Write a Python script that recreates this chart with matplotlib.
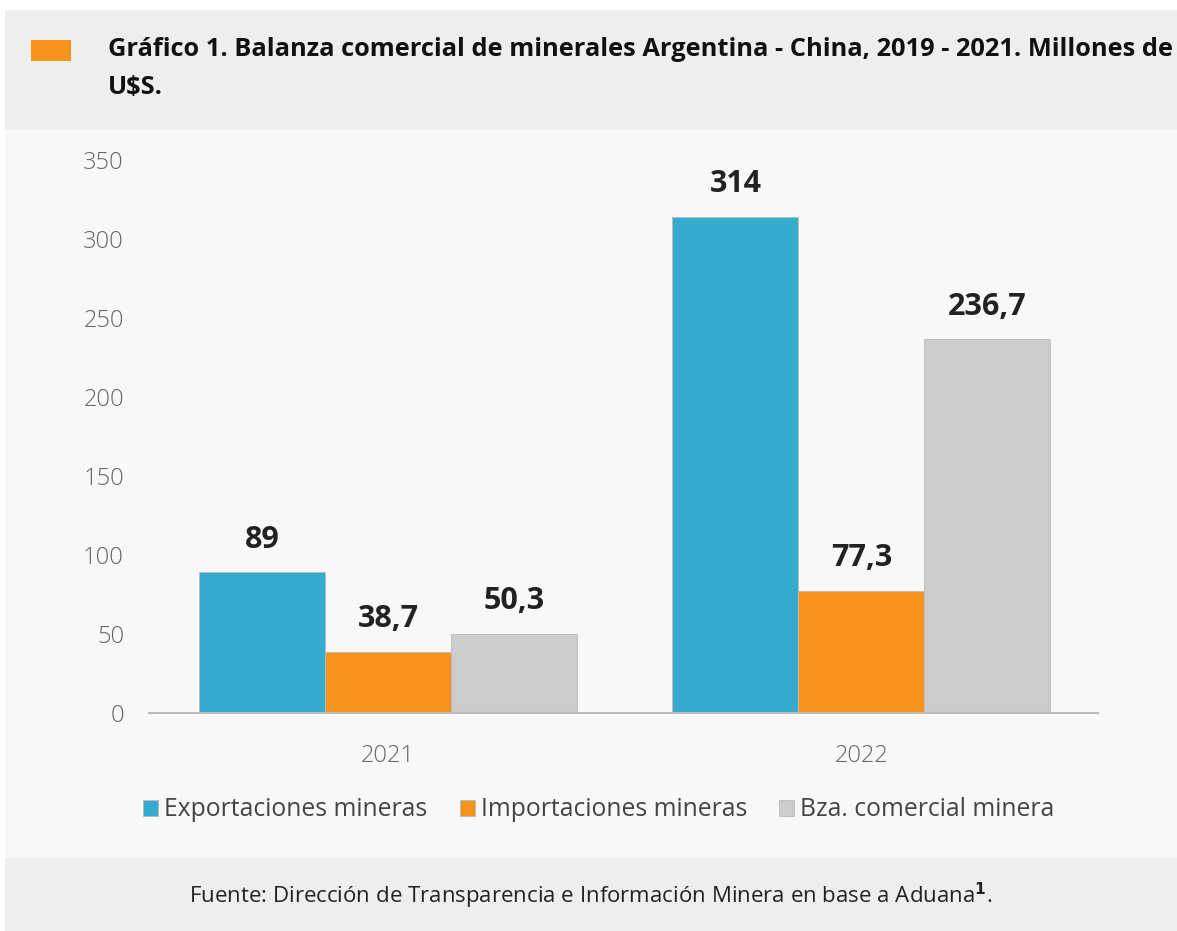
import matplotlib
matplotlib.use("Agg")
import matplotlib.pyplot as plt
from matplotlib.patches import Rectangle
import numpy as np

plt.rcParams['font.family'] = ['Open Sans', 'DejaVu Sans']

years = ["2021", "2022"]
series_names = ["Exportaciones mineras", "Importaciones mineras", "Bza. comercial minera"]
exportaciones = [89, 314]
importaciones = [38.7, 77.3]
balanza = [50.3, 236.7]
value_labels = [["89", "314"], ["38,7", "77,3"], ["50,3", "236,7"]]
colors = ["#35ABD0", "#F7941E", "#CCCCCC"]
yticks = [0, 50, 100, 150, 200, 250, 300, 350]

W, H = 1177, 931
fig = plt.figure(figsize=(W / 100, H / 100), dpi=100)
fig.patch.set_facecolor("#F8F8F8")

# header and footer bands
fig.add_artist(Rectangle((5 / W, 1 - 130 / H), 1, 120 / H, transform=fig.transFigure,
                         facecolor="#EEEEEE", edgecolor="none", zorder=0))
fig.add_artist(Rectangle((5 / W, 0), 1, (H - 858) / H, transform=fig.transFigure,
                         facecolor="#EEEEEE", edgecolor="none", zorder=0))
fig.add_artist(Rectangle((0, 1 - 10 / H), 1, 10 / H, transform=fig.transFigure,
                         facecolor="white", edgecolor="none", zorder=0))
fig.add_artist(Rectangle((0, 0), 5 / W, 1, transform=fig.transFigure,
                         facecolor="white", edgecolor="none", zorder=0))
fig.add_artist(Rectangle((31 / W, 1 - 61 / H), 40 / W, 21 / H, transform=fig.transFigure,
                         facecolor="#F7941E", edgecolor="none", zorder=1))

fig.text(108 / W, 1 - 49 / H,
         "Gráfico 1. Balanza comercial de minerales Argentina - China, 2019 - 2021. Millones de",
         ha="left", va="center", fontsize=18.3, fontweight="bold", color="#111111")
fig.text(108 / W, 1 - 87 / H, "U$S.",
         ha="left", va="center", fontsize=18.3, fontweight="bold", color="#111111")

fig.text(591 / W, 1 - 896 / H,
         "Fuente: Dirección de Transparencia e Información Minera en base a Aduana$^{\\mathbf{1}}$.",
         ha="center", va="center", fontsize=16, color="#222222")

ax = fig.add_axes([149 / W, 1 - 713 / H, (1098 - 149) / W, (713 - 160) / H])
ax.set_facecolor("#F8F8F8")

x = np.arange(len(years))
bw = 0.266
data = [exportaciones, importaciones, balanza]
for i, (vals, c, name) in enumerate(zip(data, colors, series_names)):
    pos = x + (i - 1) * bw
    ax.bar(pos, vals, width=bw, color=c, edgecolor="#BBBBBB", linewidth=0.6,
           label=name, zorder=2)
    for xi, v, lab in zip(pos, vals, value_labels[i]):
        ax.text(xi, v + 11, lab, ha="center", va="bottom", fontsize=22,
                fontweight="bold", color="#222222")

ax.set_xlim(-0.505, 1.5)
ax.set_ylim(0, 350)
ax.set_yticks(yticks)
ax.set_yticklabels([str(t) for t in yticks])
ax.set_xticks(x)
ax.set_xticklabels(years)
for s in ["top", "right", "left"]:
    ax.spines[s].set_visible(False)
ax.spines["bottom"].set_color("#BBBBBB")
ax.spines["bottom"].set_linewidth(1.5)
ax.tick_params(axis="y", length=0, pad=18, labelsize=17, labelcolor="#666666")
ax.tick_params(axis="x", length=0, pad=22, labelsize=17, labelcolor="#666666")
for t in ax.get_yticklabels() + ax.get_xticklabels():
    t.set_fontweight("light")

leg = fig.legend(loc="center", bbox_to_anchor=(599 / W, 1 - 810 / H), ncol=3,
                 frameon=False, fontsize=17.8, handlelength=0.6, handleheight=0.6,
                 handletextpad=0.25, columnspacing=1.3)
for t in leg.get_texts():
    t.set_color("#444444")

fig.savefig("out.png", dpi=100, facecolor=fig.get_facecolor())
